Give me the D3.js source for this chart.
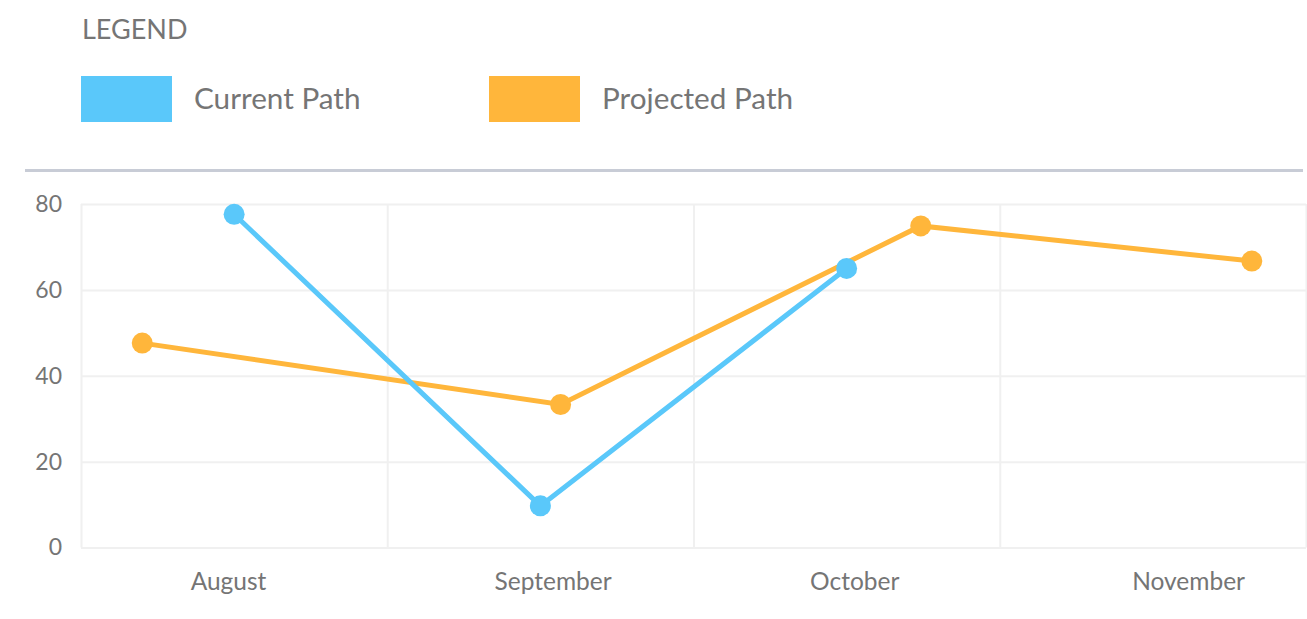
<!DOCTYPE html>
<html>
<head>
<meta charset="utf-8">
<script src="https://cdn.jsdelivr.net/npm/d3@7"></script>
<style>
  body { margin: 0; background: #fff; }
  svg text { font-family: Lato, "Open Sans", sans-serif; fill: #757575; }
</style>
</head>
<body>
<svg id="chart" width="1307" height="619"></svg>
<script>
// data
const months = ["August", "September", "October", "November"];
const monthLabelPos = [0.48, 1.54, 2.525, 3.615];
const currentX = [0.5, 1.5, 2.5];
const currentY = [77.6, 9.7, 65.0];
const projectedX = [0.2, 1.566, 2.742, 3.823];
const projectedY = [47.6, 33.3, 74.9, 66.7];
const yTicks = [0, 20, 40, 60, 80];
const seriesNames = ["Current Path", "Projected Path"];
const seriesColors = ["#5ac8fa", "#ffb63b"];

// dimensions
const plot = {left: 81, right: 1306, top: 204, bottom: 547.5};
const gridColor = "#f0f0f0";

const svg = d3.select("#chart");

// legend
svg.append("text")
  .attr("x", 82).attr("y", 39)
  .style("font-size", "27px")
  .text("LEGEND");

const legendX = [81, 489];
seriesNames.forEach(function(name, i){
  const g = svg.append("g").attr("transform", `translate(${legendX[i]},76)`);
  g.append("rect")
    .attr("width", 91).attr("height", 46)
    .attr("fill", seriesColors[i]);
  g.append("text")
    .attr("x", 113).attr("y", 32.5)
    .style("font-size", "29.7px")
    .text(name);
});

// separator
svg.append("line")
  .attr("x1", 25).attr("x2", 1303)
  .attr("y1", 170.5).attr("y2", 170.5)
  .attr("stroke", "#c8ccd6").attr("stroke-width", 3);

// scales
const x = d3.scaleLinear().domain([0, 4]).range([plot.left, plot.right]);
const y = d3.scaleLinear().domain([0, 80]).range([plot.bottom, plot.top]);

// horizontal grid + y labels
const yAxis = svg.append("g")
  .attr("transform", `translate(${plot.left},0)`)
  .call(d3.axisLeft(y).tickValues(yTicks).tickSize(-(plot.right - plot.left)).tickPadding(19));
yAxis.select(".domain").remove();
yAxis.selectAll("line").attr("stroke", gridColor).attr("stroke-width", 2);
yAxis.selectAll("text")
  .style("font-size", "23px")
  .attr("fill", "#757575")
  .attr("font-family", null);

// vertical grid
const xGrid = svg.append("g")
  .attr("transform", `translate(0,${plot.bottom})`)
  .call(d3.axisBottom(x).tickValues([0, 1, 2, 3, 4]).tickSize(-(plot.bottom - plot.top)).tickFormat(""));
xGrid.select(".domain").remove();
xGrid.selectAll("line").attr("stroke", gridColor).attr("stroke-width", 2);

// month labels
const xAxis = svg.append("g")
  .attr("transform", `translate(0,${plot.bottom})`)
  .call(d3.axisBottom(x).tickValues(monthLabelPos).tickSize(0).tickPadding(25)
    .tickFormat((d, i) => months[i]));
xAxis.select(".domain").remove();
xAxis.selectAll("text")
  .style("font-size", "24.5px")
  .attr("fill", "#757575")
  .attr("font-family", null);

// series
const line = d3.line().x(d => x(d[0])).y(d => y(d[1]));
const series = [
  d3.zip(projectedX, projectedY),
  d3.zip(currentX, currentY)
];
const order = [1, 0];

series.forEach(function(pts, k){
  const color = seriesColors[order[k]];
  svg.append("path")
    .datum(pts)
    .attr("d", line)
    .attr("fill", "none")
    .attr("stroke", color)
    .attr("stroke-width", 5);
  svg.append("g").selectAll("circle")
    .data(pts)
    .join("circle")
    .attr("cx", d => x(d[0]))
    .attr("cy", d => y(d[1]))
    .attr("r", 10.5)
    .attr("fill", color);
});
</script>
</body>
</html>
